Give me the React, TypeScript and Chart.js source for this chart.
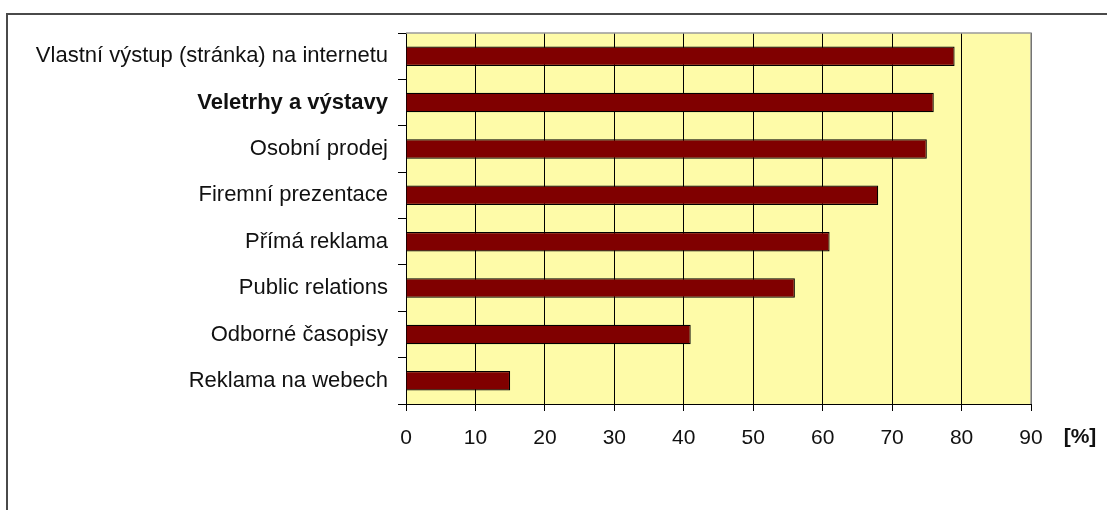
import React, { useEffect, useRef } from "react";
import { Chart, registerables } from "chart.js";

Chart.register(...registerables);

const categories: string[] = [
  "Vlastní výstup (stránka) na internetu",
  "Veletrhy a výstavy",
  "Osobní prodej",
  "Firemní prezentace",
  "Přímá reklama",
  "Public relations",
  "Odborné časopisy",
  "Reklama na webech",
];
const values: number[] = [79, 76, 75, 68, 61, 56, 41, 15];
const boldIndex = 1;
const xMin = 0;
const xMax = 90;
const xStep = 10;
const unitLabel = "[%]";

const FONT = "'Liberation Sans', Arial, sans-serif";

export default function App() {
  const ref = useRef<HTMLCanvasElement | null>(null);

  useEffect(() => {
    document.body.style.margin = "0";
    const canvas = ref.current;
    if (!canvas) return;

    const framePlugin = {
      id: "frame",
      beforeDraw(chart: any) {
        const { ctx, chartArea } = chart;
        ctx.save();
        ctx.fillStyle = "#ffffff";
        ctx.fillRect(0, 0, chart.width, chart.height);
        ctx.strokeStyle = "#4a4a4a";
        ctx.lineWidth = 2;
        ctx.strokeRect(7, 14, chart.width + 20, chart.height + 20);
        ctx.fillStyle = "#FEFBA8";
        ctx.fillRect(chartArea.left, chartArea.top, chartArea.right - chartArea.left, chartArea.bottom - chartArea.top);
        ctx.restore();
      },
      afterDraw(chart: any) {
        const { ctx, chartArea } = chart;
        ctx.save();
        ctx.strokeStyle = "#9a9a9a";
        ctx.lineWidth = 1.5;
        ctx.beginPath();
        ctx.moveTo(chartArea.left, chartArea.top);
        ctx.lineTo(chartArea.right, chartArea.top);
        ctx.lineTo(chartArea.right, chartArea.bottom);
        ctx.stroke();
        ctx.fillStyle = "#111";
        ctx.font = `bold 21px ${FONT}`;
        ctx.textAlign = "center";
        ctx.textBaseline = "middle";
        ctx.fillText(unitLabel, chartArea.right + 49, 437);
        ctx.restore();
      },
    };

    const chart = new Chart(canvas, {
      type: "bar",
      data: {
        labels: categories,
        datasets: [
          {
            data: values,
            backgroundColor: "#800000",
            borderColor: "#000000",
            borderWidth: 1.2,
            barPercentage: 0.42,
            categoryPercentage: 1,
          },
        ],
      },
      options: {
        indexAxis: "y",
        animation: false,
        responsive: false,
        maintainAspectRatio: false,
        layout: { padding: { top: 33, right: 76, left: 0, bottom: 0 } },
        plugins: {
          legend: { display: false },
          tooltip: { enabled: false },
          title: { display: false },
        },
        scales: {
          x: {
            min: xMin,
            max: xMax,
            afterFit: (s: any) => {
              s.height = 106;
            },
            ticks: {
              stepSize: xStep,
              color: "#111",
              font: { family: FONT, size: 21 },
              padding: 15,
            },
            grid: {
              color: "#000",
              lineWidth: 1,
              tickLength: 7,
              drawOnChartArea: true,
            },
            border: { display: true, color: "#000", width: 1 },
          },
          y: {
            afterFit: (s: any) => {
              s.width = 406;
            },
            ticks: {
              color: "#111",
              padding: 10,
              font: (ctx: any) => ({
                family: FONT,
                size: 22,
                weight: ctx.index === boldIndex ? "bold" : "normal",
              }),
            },
            grid: {
              drawOnChartArea: false,
              drawTicks: true,
              tickLength: 8,
              color: "#000",
              offset: true,
            },
            border: { display: true, color: "#000", width: 1 },
          },
        },
      },
      plugins: [framePlugin],
    } as any);

    return () => chart.destroy();
  }, []);

  return <canvas ref={ref} width={1107} height={510} style={{ display: "block" }} />;
}
